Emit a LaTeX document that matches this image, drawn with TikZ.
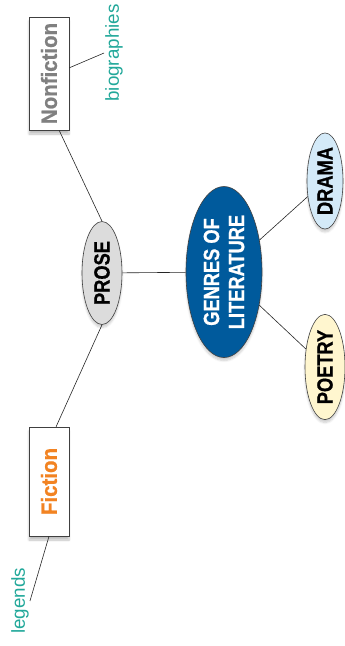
\documentclass[tikz,border=0pt]{standalone}
\usepackage{fontspec}
\setmainfont{Liberation Sans}
\newfontfamily\condfont[FakeStretch=0.83,FakeBold=0.8]{Liberation Sans Bold}
\newfontfamily\cardfont[FakeStretch=0.93,FakeBold=0.8]{Liberation Sans Bold}
\usetikzlibrary{shapes.geometric,shadows.blur,calc}
\definecolor{genblue}{HTML}{005A9C}
\definecolor{dramablue}{HTML}{D4EAF8}
\definecolor{poetryyellow}{HTML}{FFF6CF}
\definecolor{prosegray}{HTML}{DCDCDC}
\definecolor{noteteal}{HTML}{22A89A}
\definecolor{ficorange}{HTML}{F28322}
\tikzstyle{bubble}=[ellipse,draw=black!75,line width=0.6pt,rotate=90,inner sep=0pt,
  align=center,font=\condfont\fontsize{22}{25}\selectfont,
  blur shadow={shadow xshift=0pt,shadow yshift=-3pt,shadow opacity=20,shadow blur steps=6}]
\tikzstyle{card}=[rectangle,draw=black!75,line width=0.6pt,fill=white,rotate=90,
  inner sep=0pt,minimum height=40pt,font=\cardfont\fontsize{22}{25}\selectfont,
  blur shadow={shadow xshift=0pt,shadow yshift=-4pt,shadow opacity=25,shadow blur steps=6}]
\tikzstyle{note}=[text=noteteal,rotate=90,inner sep=1pt,font=\fontsize{18.8}{22}\selectfont]
\tikzstyle{link}=[black!85,line width=0.6pt]

\begin{document}
\begin{tikzpicture}[x=1pt,y=-1pt]
  \useasboundingbox (0,0) rectangle (345,646);

  % CENTRE
  \node[bubble,fill=genblue,text=white,minimum width=171pt,minimum height=76pt]
    (genres) at (224,272) {GENRES OF\\LITERATURE};

  % GENRES
  \node[bubble,fill=prosegray,minimum width=103pt,minimum height=40pt]
    (prose) at (102,273) {PROSE};
  \node[bubble,fill=dramablue,minimum width=95pt,minimum height=36pt]
    (drama) at (325,181) {DRAMA};
  \node[bubble,fill=poetryyellow,minimum width=104pt,minimum height=40pt]
    (poetry) at (325,367) {POETRY};

  % KINDS OF PROSE
  \node[card,text=black!50,minimum width=113pt] (nonfic) at (49,73.5) {Nonfiction};
  \node[card,text=ficorange,minimum width=109pt] (fic) at (49,481.5) {Fiction};

  % EXAMPLES
  \node[note] (bio) at (114,53) {biographies};
  \node[note] (leg) at (20,601) {legends};

  % LINKS
  \draw[link] (prose) -- (genres);
  \draw[link] (genres) -- (drama);
  \draw[link] (genres) -- (poetry);
  \draw[link] (prose.east) -- ($(nonfic.west)!0.5!(nonfic.south west)$);
  \draw[link] (prose.west) -- ($(fic.east)!0.35!(fic.south east)$);
  \draw[link] ($(nonfic.south)!0.1!(nonfic.south east)$) -- (bio.north);
  \draw[link] (fic.west) -- (leg.south);
\end{tikzpicture}
\end{document}
